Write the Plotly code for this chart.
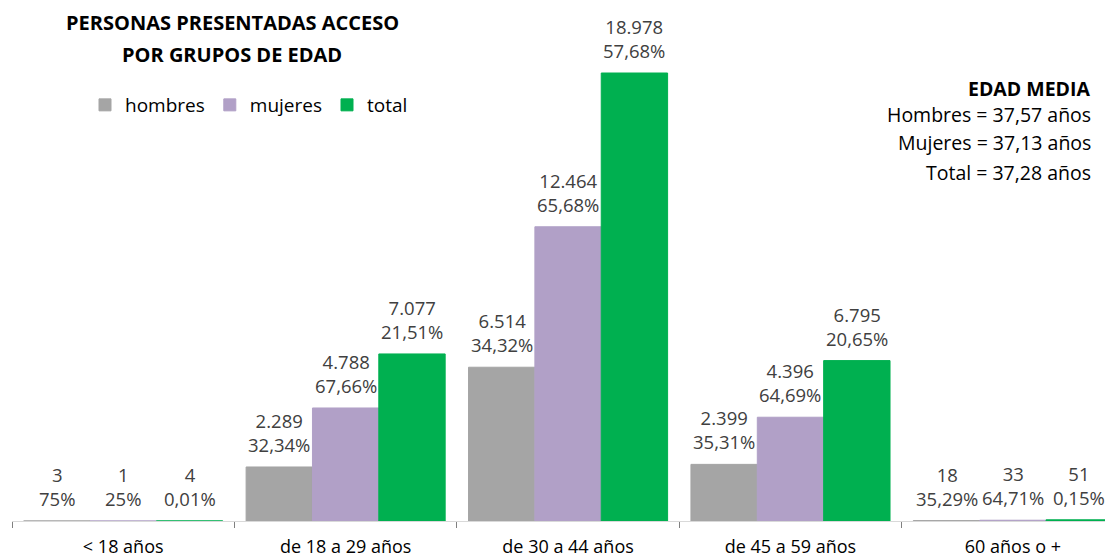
import plotly.graph_objects as go

categories = ["< 18 años", "de 18 a 29 años", "de 30 a 44 años", "de 45 a 59 años", "60 años o +"]
hombres = [3, 2289, 6514, 2399, 18]
mujeres = [1, 4788, 12464, 4396, 33]
total = [4, 7077, 18978, 6795, 51]
pct_hombres = ["75%", "32,34%", "34,32%", "35,31%", "35,29%"]
pct_mujeres = ["25%", "67,66%", "65,68%", "64,69%", "64,71%"]
pct_total = ["0,01%", "21,51%", "57,68%", "20,65%", "0,15%"]

title_lines = ["PERSONAS PRESENTADAS ACCESO", "POR GRUPOS DE EDAD"]
media_lines = ["<b>EDAD MEDIA</b>", "Hombres = 37,57 años", "Mujeres = 37,13 años", "Total = 37,28 años"]

W, H = 1113, 556
OFF = 8  # page body margin
ML, MR, MT, MB = 4, 8, 0, 43
PW = W - ML - MR
PH = H - MT - MB
FONT = "Open Sans"
BARGAP = 0.105
XR = [-0.5, 4.45]


def fmt(v):
    return f"{v:,}".replace(",", ".")


def px(x):
    return (x - OFF - ML) / PW


def py(y):
    return 1 - (y - OFF - MT) / PH


series = [
    ("hombres", hombres, pct_hombres, "#A5A5A5"),
    ("mujeres", mujeres, pct_mujeres, "#B1A0C7"),
    ("total", total, pct_total, "#00B050"),
]

fig = go.Figure()
annotations = []
bar_px = PW / (XR[1] - XR[0]) * (1 - BARGAP) / len(series)
for k, (name, vals, pcts, col) in enumerate(series):
    fig.add_trace(go.Bar(
        name=name, x=categories, y=vals,
        marker=dict(color=col, line=dict(color=col, width=1)),
    ))
    for c, v, p in zip(categories, vals, pcts):
        annotations.append(dict(
            text=f"{fmt(v)}<br>{p}", x=c, y=v, xref="x", yref="y",
            xanchor="center", yanchor="bottom", showarrow=False,
            xshift=(k - 1) * bar_px, yshift=8,
            font=dict(family=FONT, size=18.5, color="#404040"),
        ))

for t, y in zip(title_lines, [22, 55]):
    annotations.append(dict(text=f"<b>{t}</b>", x=px(232), y=py(y), xref="paper", yref="paper",
                            xanchor="center", yanchor="middle", showarrow=False,
                            font=dict(family=FONT, size=20, color="#000000")))
for t, y in zip(media_lines, [88, 115, 143, 172]):
    annotations.append(dict(text=t, x=px(1093), y=py(y), xref="paper", yref="paper",
                            xanchor="right", yanchor="middle", showarrow=False,
                            font=dict(family=FONT, size=19.5, color="#000000")))

fig.update_layout(
    width=W, height=H,
    margin=dict(l=ML, r=MR, t=MT, b=MB),
    paper_bgcolor="white", plot_bgcolor="white",
    barmode="group", bargap=BARGAP, bargroupgap=0,
    font=dict(family=FONT, color="#000000"),
    showlegend=True,
    legend=dict(orientation="h", x=px(85), y=py(105), xanchor="left", yanchor="middle",
                font=dict(family=FONT, size=19, color="#000000"),
                itemwidth=30, tracegroupgap=0, bgcolor="rgba(0,0,0,0)"),
    xaxis=dict(type="category", range=XR, tickson="boundaries", ticks="outside",
               ticklen=6, tickcolor="#808080", showline=True, linecolor="#D9D9D9", linewidth=1,
               showgrid=False, ticklabelstandoff=9,
               tickfont=dict(family=FONT, size=18, color="#000000")),
    yaxis=dict(range=[0, 21732], visible=False, showgrid=False),
    annotations=annotations,
)

fig.write_html("out.html")
